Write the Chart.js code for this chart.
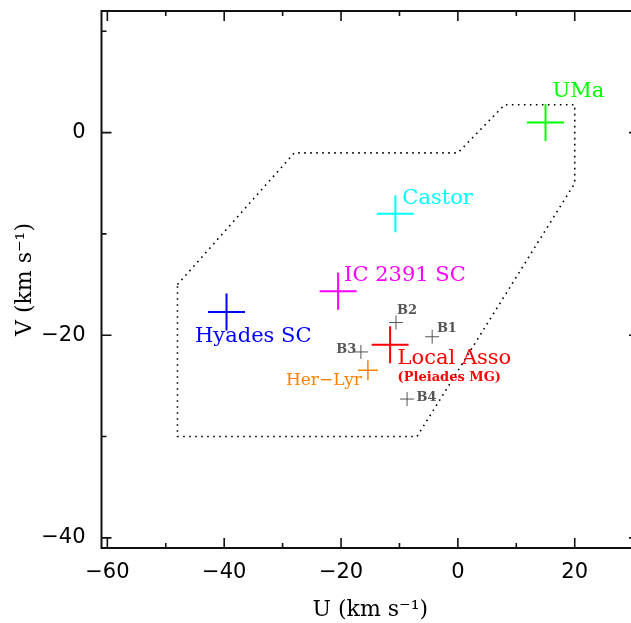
<!DOCTYPE html>
<html><head><meta charset="utf-8">
<script src="https://cdn.jsdelivr.net/npm/chart.js@4.4.1/dist/chart.umd.min.js"></script>
<style>
html,body{margin:0;padding:0;overflow:hidden;background:#fff;width:631px;height:623px}
#wrap{position:absolute;left:0;top:0;width:660px;height:623px}
</style>
</head><body><div id="wrap"><canvas id="c" width="660" height="623"></canvas></div>
<script>
// ---- data ----
const groupNames = ['UMa','Castor','IC 2391 SC','Hyades SC','Local Asso','Her\u2212Lyr','B1','B2','B3','B4'];
const uValues = [15, -10.7, -20.5, -39.6, -11.6, -15.4, -4.4, -10.6, -16.6, -8.7];
const vValues = [1, -8.0, -15.65, -17.7, -20.95, -23.45, -20.15, -18.75, -21.65, -26.3];
const boundaryU = [-48, -28, 0, 8, 20, 20, -7, -48, -48];
const boundaryV = [-15, -2, -2, 2.75, 2.75, -5, -30, -30, -15];
const xTicks = [-60, -40, -20, 0, 20];
const yTicks = [-40, -20, 0];
const xMinorTicks = [-50, -30, -10, 10, 30];
const yMinorTicks = [-30, -10, 10];
const subLabel = '(Pleiades MG)';

// ---- styles ----
const colors = ['#00ff00','#00ffff','#ff00ff','#0000ff','#ff0000','#ff8000','#555555','#555555','#555555','#555555'];
const crossRadius = [18.5, 18.5, 18.5, 18.5, 18.5, 10, 7, 7, 7, 7];
const crossWidth = [2, 2, 2, 2, 2, 1.5, 1, 1, 1, 1];
const mainFont = '21px "DejaVu Serif"';
const smallBold = 'bold 13px "DejaVu Serif"';
const labelStyle = [
  {dx: 7, dy: -25, align: 'left', font: mainFont},
  {dx: 7, dy: -9.5, align: 'left', font: mainFont},
  {dx: 6, dy: -10, align: 'left', font: mainFont},
  {dx: -31.5, dy: 30.5, align: 'left', font: mainFont},
  {dx: 7.5, dy: 19.3, align: 'left', font: mainFont},
  {dx: -6, dy: 15, align: 'right', font: '17px "DejaVu Serif"'},
  {dx: 4.7, dy: -5, align: 'left', font: smallBold},
  {dx: 1, dy: -9, align: 'left', font: smallBold},
  {dx: -4.5, dy: 1.3, align: 'right', font: smallBold},
  {dx: 9.5, dy: 2, align: 'left', font: smallBold}
];

const fmt = v => (v < 0 ? '\u2212' + Math.abs(v) : String(v));

const framePlugin = {
  id: 'frame',
  afterDatasetsDraw(chart) {
    const ctx = chart.ctx, a = chart.chartArea;
    const xs = chart.scales.x, ys = chart.scales.y;
    ctx.save();
    ctx.strokeStyle = '#111';
    ctx.lineWidth = 2;
    ctx.strokeRect(a.left, a.top, a.right - a.left, a.bottom - a.top);
    ctx.lineWidth = 1.6;
    ctx.beginPath();
    const tx = (vals, len) => vals.forEach(v => {
      const p = xs.getPixelForValue(v);
      ctx.moveTo(p, a.bottom); ctx.lineTo(p, a.bottom - len);
      ctx.moveTo(p, a.top); ctx.lineTo(p, a.top + len);
    });
    const ty = (vals, len) => vals.forEach(v => {
      const p = ys.getPixelForValue(v);
      ctx.moveTo(a.left, p); ctx.lineTo(a.left + len, p);
      ctx.moveTo(a.right, p); ctx.lineTo(a.right - len, p);
    });
    tx(xTicks, 10); tx(xMinorTicks, 5);
    ty(yTicks, 10); ty(yMinorTicks, 5);
    ctx.stroke();

    // point labels
    groupNames.forEach((name, i) => {
      const s = labelStyle[i];
      const px = xs.getPixelForValue(uValues[i]);
      const py = ys.getPixelForValue(vValues[i]);
      ctx.font = s.font;
      ctx.fillStyle = colors[i];
      ctx.textAlign = s.align;
      ctx.textBaseline = 'alphabetic';
      ctx.fillText(name, px + s.dx, py + s.dy);
      if (i === 4) {
        ctx.font = smallBold;
        ctx.fillText(subLabel, px + s.dx, py + 36.3);
      }
    });
    ctx.restore();
  }
};

new Chart(document.getElementById('c'), {
  type: 'scatter',
  data: {
    datasets: [
      {
        type: 'line',
        data: boundaryU.map((u, i) => ({x: u, y: boundaryV[i]})),
        borderColor: '#000',
        borderWidth: 1.6,
        borderDash: [1.6, 4.4],
        pointRadius: 0,
        fill: false,
        tension: 0
      },
      {
        data: uValues.map((u, i) => ({x: u, y: vValues[i]})),
        pointStyle: 'cross',
        pointRadius: crossRadius,
        pointBorderWidth: crossWidth,
        pointBorderColor: colors,
        pointBackgroundColor: colors,
        showLine: false
      }
    ]
  },
  options: {
    responsive: false,
    animation: false,
    devicePixelRatio: 1,
    layout: {autoPadding: false, padding: {left: 0, right: 21, top: 11, bottom: 0}},
    plugins: {legend: {display: false}, tooltip: {enabled: false}},
    scales: {
      x: {
        type: 'linear', min: -61, max: 31,
        grid: {display: false, drawTicks: false},
        border: {display: false},
        afterBuildTicks: s => { s.ticks = xTicks.map(v => ({value: v})); },
        afterFit: s => { s.height = 75; s.paddingLeft = 0; s.paddingRight = 0; },
        ticks: {callback: v => fmt(v), font: {family: 'DejaVu Sans', size: 21}, color: '#000', padding: 12, maxRotation: 0, autoSkip: false},
        title: {display: true, text: 'U (km s\u207B\u00B9)', font: {family: 'DejaVu Serif', size: 22}, color: '#000', padding: {top: 6, bottom: 0}}
      },
      y: {
        type: 'linear', min: -41, max: 12,
        grid: {display: false, drawTicks: false},
        border: {display: false},
        afterBuildTicks: s => { s.ticks = yTicks.map(v => ({value: v})); },
        afterFit: s => { s.width = 101.5; s.paddingTop = 0; s.paddingBottom = 0; },
        ticks: {callback: v => fmt(v), font: {family: 'DejaVu Sans', size: 21}, color: '#000', padding: 16, autoSkip: false},
        title: {display: true, text: 'V (km s\u207B\u00B9)', font: {family: 'DejaVu Serif', size: 22}, color: '#000', padding: {top: 12, bottom: 0}}
      }
    }
  },
  plugins: [framePlugin]
});
</script>
</body></html>
